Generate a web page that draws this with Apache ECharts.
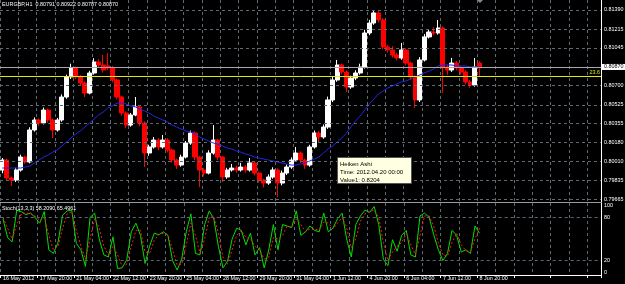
<!DOCTYPE html>
<html>
<head>
<meta charset="utf-8">
<script src="https://cdn.jsdelivr.net/npm/echarts@6/dist/echarts.min.js"></script>
<style>
html,body{margin:0;padding:0;background:#000;}
#chart{width:625px;height:284px;}
</style>
</head>
<body>
<div id="chart"></div>
<script>
// ---- data ----
const timeLabels = ['16 May 2012','17 May 20:00','21 May 04:00','22 May 12:00','23 May 20:00','25 May 04:00','28 May 12:00','29 May 20:00','31 May 04:00','1 Jun 12:00','4 Jun 20:00','6 Jun 04:00','7 Jun 12:00','8 Jun 20:00'];
const priceTicks = [0.81390,0.81215,0.81045,0.80700,0.80525,0.80355,0.80180,0.80010,0.79835,0.79665];
const lastPrice = 0.80870;
const fiboLevel = 0.80788;
const fiboLabel = '23.6';
const stochLevels = [0,20,80,100];
const titleText = 'EURGBP,H1  0.80791 0.80922 0.80787 0.80870';
const stochTitle = 'Stoch(13,3,3) 58.2090 65.4961';
const tipLines = ['Heiken Ashi','Time: 2012.04.20 00:00','Value1: 0.8204'];

const haOpen = [0.79930,0.80021,0.79857,0.79838,0.79930,0.80048,0.80003,0.80295,0.80386,0.80359,
0.80477,0.80386,0.80295,0.80386,0.80596,0.80779,0.80861,0.80779,0.80724,0.80632,
0.80815,0.80915,0.80888,0.80880,0.80861,0.80751,0.80596,0.80450,0.80340,0.80432,
0.80505,0.80359,0.80085,0.80140,0.80203,0.80140,0.80203,0.80112,0.80021,0.79975,
0.80048,0.80176,0.80267,0.80048,0.79930,0.79902,0.80085,0.80203,0.80048,0.79866,
0.79930,0.79948,0.79930,0.79957,0.79930,0.79994,0.79902,0.79838,0.79811,0.79866,
0.79930,0.79811,0.79902,0.79957,0.80021,0.80085,0.80021,0.79975,0.80140,0.80267,
0.80231,0.80322,0.80569,0.80751,0.80888,0.80824,0.80687,0.80769,0.80815,0.80870,
0.81180,0.81271,0.81363,0.81299,0.81052,0.81025,0.80979,0.80952,0.81025,0.80906,
0.80779,0.80569,0.80934,0.81144,0.81189,0.81180,0.81226,0.80870,0.80842,0.80906,
0.80861,0.80824,0.80733,0.80705,0.80906];
const haClose = [0.80021,0.79857,0.79838,0.79930,0.80048,0.80003,0.80295,0.80386,0.80359,0.80477,
0.80386,0.80295,0.80386,0.80596,0.80779,0.80861,0.80779,0.80724,0.80632,0.80815,
0.80915,0.80888,0.80842,0.80861,0.80751,0.80596,0.80450,0.80340,0.80432,0.80505,
0.80359,0.80085,0.80140,0.80203,0.80140,0.80203,0.80112,0.80021,0.79975,0.80048,
0.80176,0.80267,0.80048,0.79930,0.79902,0.80085,0.80203,0.80048,0.79866,0.79930,
0.79948,0.79930,0.79957,0.79930,0.79994,0.79902,0.79838,0.79811,0.79866,0.79930,
0.79811,0.79902,0.79957,0.80021,0.80085,0.80021,0.79975,0.80140,0.80267,0.80231,
0.80322,0.80569,0.80751,0.80888,0.80824,0.80687,0.80769,0.80815,0.80870,0.81180,
0.81271,0.81363,0.81299,0.81052,0.81025,0.80979,0.80952,0.81025,0.80906,0.80779,
0.80569,0.80934,0.81144,0.81189,0.81180,0.81226,0.80870,0.80842,0.80906,0.80861,
0.80824,0.80733,0.80705,0.80870,0.80870];
const haHigh = [0.80040,0.80035,0.79870,0.79950,0.80070,0.80060,0.80320,0.80410,0.80400,0.80500,
0.80490,0.80400,0.80405,0.80620,0.80800,0.80900,0.80875,0.80795,0.80740,0.80835,
0.80950,0.80940,0.80979,0.80997,0.80880,0.80765,0.80610,0.80465,0.80450,0.80596,
0.80520,0.80375,0.80160,0.80230,0.80220,0.80250,0.80220,0.80125,0.80035,0.80070,
0.80195,0.80290,0.80280,0.80060,0.79950,0.80110,0.80340,0.80215,0.80060,0.79950,
0.79985,0.79970,0.79995,0.79975,0.80040,0.80010,0.79915,0.79850,0.79890,0.79955,
0.79945,0.79925,0.79980,0.80045,0.80140,0.80100,0.80035,0.80160,0.80290,0.80285,
0.80345,0.80600,0.80780,0.80934,0.80900,0.80840,0.80790,0.80840,0.80900,0.81210,
0.81300,0.81390,0.81380,0.81315,0.81070,0.81060,0.81000,0.81089,0.81040,0.80920,
0.80795,0.80960,0.81170,0.81215,0.81235,0.81299,0.81240,0.80890,0.80952,0.80925,
0.80875,0.80840,0.80750,0.80952,0.80922];
const haLow = [0.79900,0.79830,0.79784,0.79820,0.79915,0.79985,0.79990,0.80280,0.80330,0.80345,
0.80360,0.80222,0.80280,0.80370,0.80580,0.80760,0.80760,0.80700,0.80596,0.80620,
0.80800,0.80870,0.80820,0.80840,0.80730,0.80575,0.80425,0.80310,0.80325,0.80420,
0.80330,0.79957,0.80060,0.80125,0.80110,0.80125,0.80090,0.79995,0.79940,0.79960,
0.80035,0.80160,0.80020,0.79775,0.79870,0.79890,0.80070,0.80020,0.79820,0.79850,
0.79915,0.79905,0.79915,0.79905,0.79915,0.79880,0.79815,0.79770,0.79795,0.79850,
0.79683,0.79790,0.79885,0.79940,0.80005,0.79995,0.79940,0.79960,0.80125,0.80180,
0.80215,0.80305,0.80550,0.80735,0.80800,0.80642,0.80670,0.80750,0.80800,0.80855,
0.81160,0.81255,0.81275,0.81030,0.81000,0.80955,0.80930,0.80935,0.80885,0.80755,
0.80496,0.80550,0.80920,0.81130,0.81160,0.81165,0.80632,0.80800,0.80825,0.80840,
0.80800,0.80710,0.80680,0.80690,0.80787];
const maValues = [0.79948,0.79948,0.79948,0.79948,0.79948,0.79957,0.79966,0.79994,0.80021,0.80048,
0.80066,0.80094,0.80112,0.80149,0.80185,0.80222,0.80258,0.80286,0.80322,0.80359,
0.80395,0.80432,0.80459,0.80496,0.80514,0.80541,0.80541,0.80532,0.80514,0.80505,
0.80486,0.80468,0.80450,0.80423,0.80404,0.80386,0.80368,0.80340,0.80322,0.80304,
0.80286,0.80277,0.80258,0.80231,0.80213,0.80194,0.80176,0.80167,0.80149,0.80130,
0.80121,0.80103,0.80094,0.80076,0.80066,0.80048,0.80039,0.80030,0.80021,0.80012,
0.80003,0.79994,0.79985,0.79975,0.79975,0.79985,0.79994,0.80012,0.80030,0.80048,
0.80085,0.80121,0.80149,0.80185,0.80222,0.80267,0.80322,0.80377,0.80423,0.80477,
0.80532,0.80578,0.80623,0.80651,0.80678,0.80696,0.80715,0.80733,0.80742,0.80760,
0.80779,0.80797,0.80815,0.80833,0.80852,0.80879,0.80888,0.80888,0.80888,0.80879,
0.80879,0.80879,0.80870,0.80870,0.80870];
const stochMain = [78,52,46,90,88,84,86,80,72,88,
35,30,45,83,89,90,44,35,12,80,
86,50,28,25,53,9,10,21,60,72,
55,16,40,58,56,60,55,20,7,22,
60,85,30,28,70,89,78,40,10,19,
50,65,62,42,58,28,38,10,35,70,
35,70,68,66,89,55,60,68,62,60,
86,60,65,78,86,50,25,70,82,90,
87,95,70,22,13,49,33,55,62,28,
25,82,86,80,56,35,20,30,62,55,
32,35,30,68,58];
const stochSignal = [80,65,50,70,85,86,85,82,76,80,
55,35,40,65,85,88,62,40,22,50,
78,65,40,28,40,28,12,15,40,62,
62,32,30,48,56,58,56,35,14,15,
42,72,55,30,50,80,82,58,25,15,
35,55,62,52,50,40,35,22,25,52,
50,55,68,66,78,70,60,64,64,62,
74,72,64,72,80,66,38,50,75,85,
88,90,80,45,20,32,40,45,58,42,
28,55,82,82,68,45,28,26,45,58,
42,34,32,50,65];

// ---- layout ----
const SLOTS = 131;
const LABEL_EVERY = 8;
const FONT = "'Liberation Sans',Arial,sans-serif";
const FS = 5.4;
const GRID_COLOR = '#5d6876';

const xData = [];
for (let i = 0; i < SLOTS; i++) {
  const k = i / LABEL_EVERY;
  xData.push(Number.isInteger(k) && k < timeLabels.length ? timeLabels[k] : ' ' + i);
}
const candles = haOpen.map((o, i) => [o, haClose[i], haLow[i], haHigh[i]]);

const chart = echarts.init(document.getElementById('chart'), null, {renderer: 'canvas'});
const dashed = {color: GRID_COLOR, type: [3, 3], width: 1};

const option = {
  animation: false,
  backgroundColor: '#000000',
  textStyle: {fontFamily: FONT},
  grid: [
    {left: 0, top: 0, width: 601, height: 202},
    {left: 0, top: 203, width: 601, height: 72}
  ],
  xAxis: [
    {type: 'category', gridIndex: 0, data: xData, boundaryGap: true,
     axisLine: {show: true, lineStyle: {color: '#9a9a9a'}}, axisTick: {show: false},
     axisLabel: {show: false},
     splitLine: {show: true, interval: 3, lineStyle: dashed}},
    {type: 'category', gridIndex: 1, data: xData, boundaryGap: true,
     axisLine: {show: true, lineStyle: {color: '#ffffff'}},
     axisTick: {show: true, interval: LABEL_EVERY - 1, length: 3, lineStyle: {color: '#ffffff'}},
     axisLabel: {show: true, interval: LABEL_EVERY - 1, align: 'left', color: '#ffffff',
                 fontSize: FS, fontFamily: FONT, margin: 1.5,
                 formatter: v => (v.charAt(0) === ' ' ? '' : v)},
     splitLine: {show: true, interval: 3, lineStyle: dashed}}
  ],
  yAxis: [
    {type: 'value', gridIndex: 0, position: 'right', min: 0.79638, max: 0.81481, scale: true,
     axisLine: {show: true, lineStyle: {color: '#ffffff'}}, axisTick: {show: false},
     axisLabel: {show: false}, splitLine: {show: false}},
    {type: 'value', gridIndex: 1, position: 'right', min: 0, max: 100, interval: 20,
     axisLine: {show: true, lineStyle: {color: '#ffffff'}}, axisTick: {show: false},
     axisLabel: {show: true, color: '#ffffff', fontSize: FS, fontFamily: FONT, margin: 3,
                 verticalAlignMaxLabel: 'top', verticalAlignMinLabel: 'bottom',
                 formatter: v => (stochLevels.indexOf(v) >= 0 ? String(v) : '')},
     splitLine: {show: false}}
  ],
  series: [
    {type: 'candlestick', xAxisIndex: 0, yAxisIndex: 0, data: candles, barWidth: '100%',
     itemStyle: {color: '#ffffff', color0: '#ff0000', borderColor: '#ffffff', borderColor0: '#ff0000', borderWidth: 1},
     markLine: {silent: true, symbol: 'none', animation: false, precision: 5,
       label: {position: 'end', distance: 3, color: '#ffffff', fontSize: FS, fontFamily: FONT,
               formatter: p => p.value.toFixed(5)},
       lineStyle: dashed,
       data: priceTicks.map(v => ({yAxis: v}))}},
    {type: 'line', xAxisIndex: 0, yAxisIndex: 0, data: maValues, symbol: 'none', z: 4,
     lineStyle: {color: '#2424e8', width: 1}},
    {type: 'line', xAxisIndex: 0, yAxisIndex: 0, data: [], z: 5,
     markLine: {silent: true, symbol: 'none', animation: false, precision: 5,
       data: [
         {yAxis: lastPrice, lineStyle: {color: '#a8a8a8', type: 'solid', width: 1},
          label: {position: 'end', distance: 1, color: '#000000', backgroundColor: '#ffffff',
                  padding: [1, 2, 0, 2], fontSize: FS, fontFamily: FONT,
                  formatter: p => p.value.toFixed(5)}},
         {yAxis: fiboLevel, lineStyle: {color: '#e8e800', type: 'solid', width: 1},
          label: {position: 'insideEndTop', distance: 1, color: '#e8e800', fontSize: FS, fontFamily: FONT,
                  formatter: () => fiboLabel}}
       ]}},
    {type: 'line', xAxisIndex: 1, yAxisIndex: 1, data: stochMain, symbol: 'none',
     lineStyle: {color: '#00e000', width: 1},
     markLine: {silent: true, symbol: 'none', animation: false, label: {show: false},
       lineStyle: dashed, data: [{yAxis: 80}, {yAxis: 20}]}},
    {type: 'line', xAxisIndex: 1, yAxisIndex: 1, data: stochSignal, symbol: 'none', z: 3,
     lineStyle: {color: '#ff1a1a', width: 1, type: [2, 2]}}
  ],
  graphic: [
    {type: 'text', left: 2, top: 2, z: 100, style: {text: titleText, fill: '#ffffff', font: FS + 'px ' + FONT}},
    {type: 'text', left: 2, top: 206, z: 100, style: {text: stochTitle, fill: '#ffffff', font: FS + 'px ' + FONT}},
    {type: 'polygon', z: 100, shape: {points: [[477, 0], [483, 0], [480, 3]]}, style: {fill: '#8a8a8a'}},
    {type: 'rect', z: 100, shape: {x: 337.5, y: 157.5, width: 74, height: 26}, style: {fill: '#ffffe1', stroke: '#555555', lineWidth: 1}},
    {type: 'text', z: 101, x: 340, y: 160, style: {text: tipLines.join('\n'), fill: '#000000', font: '6px ' + FONT, lineHeight: 8}}
  ]
};
chart.setOption(option);
</script>
</body>
</html>
